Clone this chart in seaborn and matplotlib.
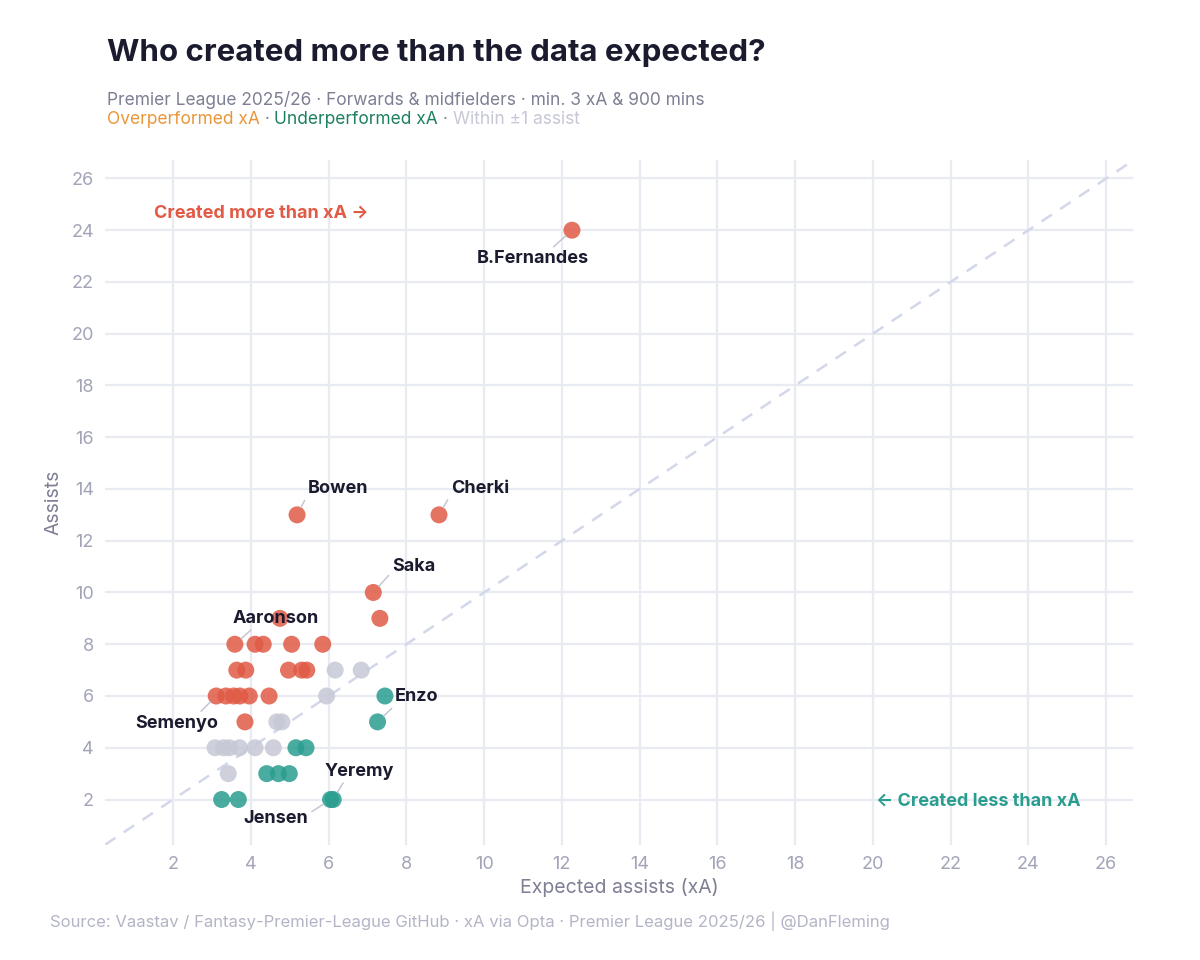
import matplotlib
matplotlib.use("Agg")
import matplotlib.pyplot as plt
import seaborn as sns
import numpy as np
import pandas as pd


xa = [12.26, 5.19, 8.84, 7.15, 7.32, 4.75,
      3.59, 4.11, 4.32, 5.05, 5.85,
      3.64, 3.87, 4.97, 5.31, 5.44, 6.17, 6.84,
      3.11, 3.36, 3.56, 3.72, 3.96, 4.47, 5.95, 7.45,
      3.85, 4.67, 4.80, 7.26,
      3.08, 3.30, 3.45, 3.71, 4.11, 4.58, 5.16, 5.42,
      3.42, 4.41, 4.71, 4.99,
      3.25, 3.68, 6.05, 6.12]
assists = [24, 13, 13, 10, 9, 9,
           8, 8, 8, 8, 8,
           7, 7, 7, 7, 7, 7, 7,
           6, 6, 6, 6, 6, 6, 6, 6,
           5, 5, 5, 5,
           4, 4, 4, 4, 4, 4, 4, 4,
           3, 3, 3, 3,
           2, 2, 2, 2]

# labelled players: index of their point, where the label sits
label_names = ["B.Fernandes", "Bowen", "Cherki", "Saka", "Aaronson",
               "Semenyo", "Enzo", "Yeremy", "Jensen"]
label_idx = [0, 1, 2, 3, 6, 18, 29, 45, 44]
label_pos = [(11.26, 22.9), (5.47, 14.0), (9.15, 14.0), (7.63, 11.0),
             (4.65, 9.0), (2.1, 4.95), (7.71, 5.97), (6.78, 3.1), (4.65, 1.25)]
label_ha = ["center", "left", "left", "left", "center",
            "center", "left", "center", "center"]
label_relpos = [(0.65, 1), (0, 0.2), (0, 0.2), (0, 0.2), (0.25, 0),
                (0.75, 1), (0, 0), (0.3, 0), (1, 0.8)]

RED = "#E05A45"
TEAL = "#2A9D8F"
GREY = "#C6C8D6"
DARK = "#1B1B2F"
MUTED = "#7D7F93"

df = pd.DataFrame({"xA": xa, "Assists": assists})
diff = df["Assists"] - df["xA"]
df["group"] = np.where(diff > 1, "over", np.where(diff < -1, "under", "within"))

sns.set_theme(style="white")
plt.rcParams["font.family"] = ["Inter", "DejaVu Sans"]

fig = plt.figure(figsize=(12, 9.6), dpi=100)
ax = fig.add_axes([0.0875, 0.12, 0.857, 0.713])

lims = (0.25, 26.7)
ax.plot(lims, lims, color="#D3D7EA", lw=1.8, dashes=(5, 4), zorder=1)

sns.scatterplot(data=df, x="xA", y="Assists", hue="group",
                palette={"over": RED, "under": TEAL, "within": GREY},
                s=150, alpha=0.85, edgecolor="none", legend=False,
                ax=ax, zorder=3)

ax.set_xlim(lims)
ax.set_ylim(lims)
ticks = np.arange(2, 27, 2)
ax.set_xticks(ticks)
ax.set_yticks(ticks)
ax.grid(True, color="#E9EBF3", lw=1.6)
ax.set_axisbelow(True)
for s in ax.spines.values():
    s.set_visible(False)
ax.tick_params(axis="both", length=0, labelsize=13, labelcolor="#A2A4B8", pad=8)
ax.set_xlabel("Expected assists (xA)", fontsize=14, color=MUTED, labelpad=4)
ax.set_ylabel("Assists", fontsize=14, color=MUTED, labelpad=6)

for name, i, pos, ha, rp in zip(label_names, label_idx, label_pos, label_ha, label_relpos):
    ax.annotate(name, xy=(xa[i], assists[i]), xytext=pos, ha=ha, va="center",
                fontsize=13, fontweight="bold", color=DARK, zorder=5,
                arrowprops=dict(arrowstyle="-", color="#BFC2D0", lw=1,
                                shrinkA=0, shrinkB=6, relpos=rp))

ax.text(1.51, 24.65, "Created more than xA \u2192", fontsize=13, fontweight="bold",
        color=RED, ha="left", va="center")
ax.text(20.08, 1.95, "\u2190 Created less than xA", fontsize=13, fontweight="bold",
        color=TEAL, ha="left", va="center")

fig.text(0.089, 0.945, "Who created more than the data expected?", fontsize=22.5,
         fontweight="bold", color=DARK, va="center")
fig.text(0.089, 0.896,
         "Premier League 2025/26 \u00b7 Forwards & midfielders \u00b7 min. 3 xA & 900 mins",
         fontsize=12.5, color=MUTED, va="center")

# colour key line, pieces chained one after another
pieces = [("Overperformed xA", "#E8963A"), (" \u00b7 ", MUTED),
          ("Underperformed xA", "#1E8060"), (" \u00b7 ", MUTED),
          ("Within \u00b11 assist", "#C6C8D6")]
prev = fig.text(0.089, 0.875, pieces[0][0], fontsize=12.5, color=pieces[0][1], va="center")
for txt, col in pieces[1:]:
    prev = ax.annotate(txt, xy=(1, 0.5), xycoords=prev, va="center", ha="left",
                       fontsize=12.5, color=col, annotation_clip=False)

fig.text(0.042, 0.04,
         "Source: Vaastav / Fantasy-Premier-League GitHub \u00b7 xA via Opta \u00b7 Premier League 2025/26 | @DanFleming",
         fontsize=12, color="#B3B5C6", va="center")

fig.savefig("out.png", dpi=100, facecolor="white")
